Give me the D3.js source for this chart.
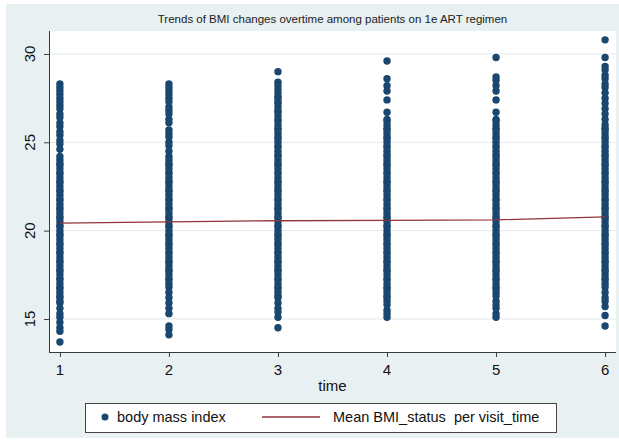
<!DOCTYPE html>
<html><head><meta charset="utf-8">
<script src="https://cdn.jsdelivr.net/npm/d3@7"></script>
<style>
body{margin:0;background:#fff;}
text{font-family:"Liberation Sans",Arial,sans-serif;}
</style>
</head><body>
<svg id="c" width="619" height="441"></svg>
<script>
// ---- data ----
const times = [1, 2, 3, 4, 5, 6];
const xTicks = [1, 2, 3, 4, 5, 6];
const yTicks = [15, 20, 25, 30];
const bmi_t1 = [28.3,28.1,27.9,27.7,27.5,27.3,27.1,26.9,26.6,26.4,26.1,25.9,25.6,25.4,25.1,24.9,24.6,
  24.2,24.0,23.8,23.7,23.5,23.3,23.2,23.0,22.8,22.7,22.5,22.3,22.2,22.0,21.8,21.7,21.5,21.3,21.2,21.0,
  20.8,20.7,20.5,20.3,20.2,20.0,19.8,19.7,19.5,19.3,19.2,19.0,18.8,18.7,18.5,18.3,18.2,18.0,
  17.8,17.7,17.5,17.3,17.2,17.0,16.8,16.7,16.5,16.3,16.2,16.0,15.9,
  15.6,15.3,15.1,14.8,14.5,14.3,13.7];
const bmi_t2 = [28.3,28.1,27.9,27.7,27.5,27.3,27.0,26.8,26.6,26.3,26.1,
  25.7,25.5,25.3,25.0,24.8,24.5,
  24.2,24.0,23.8,23.7,23.5,23.3,23.2,23.0,22.8,22.7,22.5,22.3,22.2,22.0,21.8,21.7,21.5,21.3,21.2,21.0,
  20.8,20.7,20.5,20.3,20.2,20.0,19.8,19.7,19.5,19.3,19.2,19.0,18.8,18.7,18.5,18.3,18.2,18.0,
  17.8,17.7,17.5,17.3,17.2,17.0,16.8,
  16.5,16.2,15.9,15.6,15.3,14.6,14.4,14.1];
const bmi_t3 = [29.0,28.4,28.2,28.0,27.8,27.6,
  27.5,27.3,27.2,27.0,26.8,26.7,26.5,26.3,26.2,26.0,25.8,25.7,25.5,25.3,25.2,25.0,
  24.8,24.7,24.5,24.3,24.2,24.0,23.8,23.7,23.5,23.3,23.2,23.0,22.8,22.7,22.5,22.3,22.2,22.0,
  21.8,21.7,21.5,21.3,21.2,21.0,20.8,20.7,20.5,20.3,20.2,20.0,19.8,19.7,19.5,19.3,19.2,19.0,
  18.8,18.7,18.5,18.3,18.2,18.0,17.8,17.7,17.5,17.3,17.2,17.0,16.8,16.7,16.5,16.3,16.2,
  15.9,15.6,15.4,15.1,14.5];
const bmi_t4 = [29.6,28.6,28.2,27.9,27.4,26.7,
  26.3,26.2,26.0,25.8,25.7,25.5,25.3,25.2,25.0,
  24.8,24.7,24.5,24.3,24.2,24.0,23.8,23.7,23.5,23.3,23.2,23.0,22.8,22.7,22.5,22.3,22.2,22.0,
  21.8,21.7,21.5,21.3,21.2,21.0,20.8,20.7,20.5,20.3,20.2,20.0,19.8,19.7,19.5,19.3,19.2,19.0,
  18.8,18.7,18.5,18.3,18.2,18.0,17.8,17.7,17.5,17.3,17.2,17.0,16.8,16.7,16.5,16.3,16.2,
  16.0,15.8,15.5,15.3,15.1];
const bmi_t5 = [29.8,28.7,28.5,28.2,27.9,27.4,26.7,
  26.3,26.2,26.0,25.8,25.7,25.5,25.3,25.2,25.0,
  24.8,24.7,24.5,24.3,24.2,24.0,23.8,23.7,23.5,23.3,23.2,23.0,22.8,22.7,22.5,22.3,22.2,22.0,
  21.8,21.7,21.5,21.3,21.2,21.0,20.8,20.7,20.5,20.3,20.2,20.0,19.8,19.7,19.5,19.3,19.2,19.0,
  18.8,18.7,18.5,18.3,18.2,18.0,17.8,17.7,17.5,17.3,17.2,17.0,16.8,16.7,16.5,16.3,
  16.0,15.8,15.6,15.3,15.1];
const bmi_t6 = [30.8,29.8,29.3,29.1,28.8,28.6,28.3,28.1,27.8,27.5,27.2,26.9,26.6,26.3,26.0,
  25.8,25.7,25.5,25.3,25.2,25.0,
  24.8,24.7,24.5,24.3,24.2,24.0,23.8,23.7,23.5,23.3,23.2,23.0,22.8,22.7,22.5,22.3,22.2,22.0,
  21.8,21.7,21.5,21.3,21.2,21.0,20.8,20.7,20.5,20.3,20.2,20.0,19.8,19.7,19.5,19.3,19.2,19.0,
  18.8,18.7,18.5,18.3,18.2,18.0,17.8,17.7,17.5,17.3,17.2,17.0,16.8,
  16.5,16.2,16.0,15.7,15.2,14.6];
const bmiByTime = [bmi_t1, bmi_t2, bmi_t3, bmi_t4, bmi_t5, bmi_t6];
const meanBMI = [20.42, 20.50, 20.56, 20.58, 20.61, 20.78];
const titleText = "Trends of BMI changes overtime among patients on 1e ART regimen";
const xLabel = "time";
const legendLabels = ["body mass index", "Mean BMI_status  per visit_time"];

// ---- drawing ----
const svg = d3.select("#c");
const P = {left: 49, right: 616, top: 31, bottom: 352};
const x = d3.scaleLinear().domain([0.9, 6.1]).range([P.left, P.right]);
const y = d3.scaleLinear().domain([13.13, 31.3]).range([P.bottom, P.top]);
const dotColor = "#1a476f", lineColor = "#90353b", axisColor = "#3a3a3a";
const R = 3.7;

svg.append("rect").attr("x", 6).attr("y", 4).attr("width", 613).attr("height", 434).attr("fill", "#e8f0f2");
svg.append("rect").attr("x", P.left).attr("y", P.top).attr("width", P.right - P.left).attr("height", P.bottom - P.top).attr("fill", "#fff");

// gridlines
svg.append("g").selectAll("line").data(yTicks).join("line")
  .attr("x1", P.left).attr("x2", P.right)
  .attr("y1", d => y(d)).attr("y2", d => y(d))
  .attr("stroke", "#e0eaee").attr("stroke-width", 1);

// points
const pts = [];
bmiByTime.forEach((arr, i) => arr.forEach(v => pts.push({t: times[i], v})));
svg.append("g").selectAll("circle").data(pts).join("circle")
  .attr("cx", d => x(d.t)).attr("cy", d => y(d.v)).attr("r", R).attr("fill", dotColor);

// mean line
svg.append("path").datum(times.map((t, i) => [t, meanBMI[i]]))
  .attr("d", d3.line().x(d => x(d[0])).y(d => y(d[1])))
  .attr("fill", "none").attr("stroke", lineColor).attr("stroke-width", 1.3);

// axes
const yAxis = svg.append("g").attr("transform", `translate(${P.left},0)`)
  .call(d3.axisLeft(y).tickValues(yTicks).tickSize(5).tickFormat(""));
const xAxis = svg.append("g").attr("transform", `translate(0,${P.bottom})`)
  .call(d3.axisBottom(x).tickValues(xTicks).tickSize(5).tickFormat(""));
[yAxis, xAxis].forEach(g => {
  g.select(".domain").attr("stroke", axisColor).attr("d",
    g === yAxis ? `M0.5,${P.top}V${P.bottom + 0.5}` : `M${P.left},0.5H${P.right}`);
  g.selectAll(".tick line").attr("stroke", axisColor);
});

// y tick labels (rotated)
svg.append("g").selectAll("text").data(yTicks).join("text")
  .attr("transform", d => `translate(35,${y(d)}) rotate(-90)`)
  .attr("text-anchor", "middle").attr("font-size", 15).attr("fill", "#111")
  .text(d => d);
// x tick labels
svg.append("g").selectAll("text").data(xTicks).join("text")
  .attr("x", d => x(d)).attr("y", 375)
  .attr("text-anchor", "middle").attr("font-size", 15).attr("fill", "#111")
  .text(d => d);
svg.append("text").attr("x", (P.left + P.right) / 2).attr("y", 391)
  .attr("text-anchor", "middle").attr("font-size", 15).attr("fill", "#111").text(xLabel);

// title
svg.append("text").attr("x", (P.left + P.right) / 2).attr("y", 23)
  .attr("text-anchor", "middle").attr("font-size", 11.5).attr("fill", "#222").text(titleText);

// legend
const lg = svg.append("g");
lg.append("rect").attr("x", 85.5).attr("y", 403.5).attr("width", 471).attr("height", 29)
  .attr("fill", "#fff").attr("stroke", "#444");
lg.append("circle").attr("cx", 105).attr("cy", 417).attr("r", 3.5).attr("fill", dotColor);
lg.append("text").attr("x", 117).attr("y", 422).attr("font-size", 14.5).attr("fill", "#111").text(legendLabels[0]);
lg.append("line").attr("x1", 262).attr("x2", 320).attr("y1", 417).attr("y2", 417)
  .attr("stroke", lineColor).attr("stroke-width", 1.3);
lg.append("text").attr("x", 333).attr("y", 422).attr("font-size", 14.5).attr("fill", "#111")
  .style("white-space", "pre").text(legendLabels[1]);
</script>
</body></html>
